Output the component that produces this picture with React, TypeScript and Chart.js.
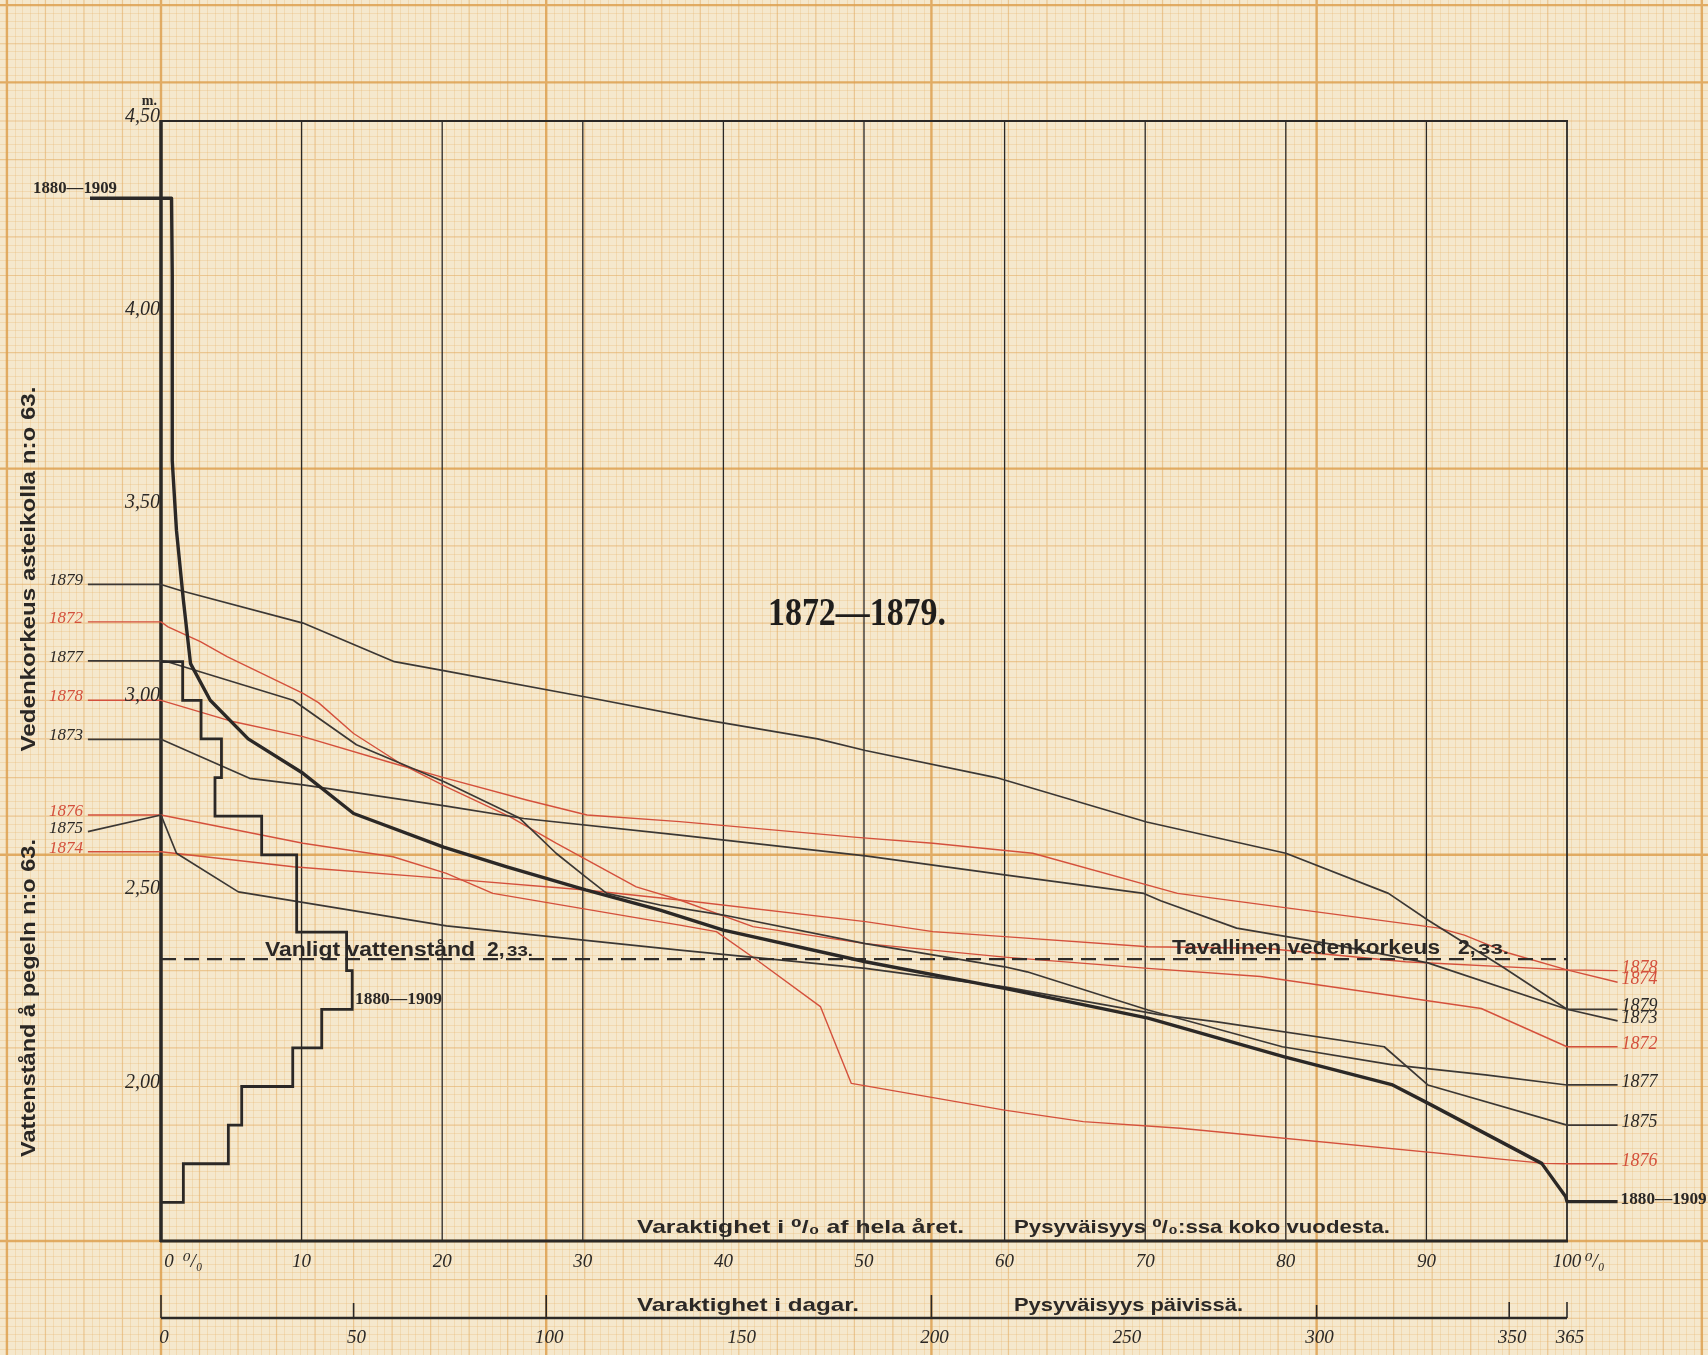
import React, { useEffect, useRef } from "react";
import { Chart, registerables } from "chart.js";

Chart.register(...registerables);

const CANVAS_W = 1708;
const CANVAS_H = 1355;

// ---------------- axes / ticks ----------------
const PCT_TICKS = [0, 10, 20, 30, 40, 50, 60, 70, 80, 90, 100];
const DAY_TICKS = [0, 50, 100, 150, 200, 250, 300, 350, 365];
const DAY_TICK_LEN = [23, 15, 23, 0, 23, 0, 13, 16, 16];
const LEVEL_TICKS = [2.0, 2.5, 3.0, 3.5, 4.0, 4.5];
const LEVEL_TICK_LABELS = ["2,00", "2,50", "3,00", "3,50", "4,00", "4,50"];
const ORDINARY_LEVEL = 2.33;
const Y_MIN = 1.6;
const Y_MAX = 4.5;
const DAYS_IN_YEAR = 365;

// ---------------- yearly duration curves (percent of year, level m) ----------------
const pct1879 = [0, 1.5, 10.1, 16.6, 20.1, 30.3, 38.3, 46.7, 50.1, 59.4, 70.1, 80.0, 87.3, 90.1, 95.4, 100];
const lev1879 = [3.30, 3.283, 3.20, 3.10, 3.077, 3.008, 2.952, 2.90, 2.87, 2.80, 2.685, 2.604, 2.50, 2.431, 2.31, 2.20];

const pct1872 = [0, 0.5, 2.8, 4.7, 10.1, 11.2, 13.7, 17.0, 20.3, 24.8, 28.1, 33.8, 36.9, 42.1, 50.1, 60, 70.2, 78.2, 93.9, 100];
const lev1872 = [3.203, 3.19, 3.152, 3.113, 3.018, 2.994, 2.914, 2.837, 2.776, 2.699, 2.63, 2.517, 2.483, 2.414, 2.37, 2.335, 2.306, 2.285, 2.202, 2.103];

const pct1877 = [0, 0.45, 9.4, 13.9, 20.1, 25.5, 28.1, 30.2, 31.7, 35.5, 40, 50.1, 60, 61.6, 70.2, 79.75, 87.6, 94.2, 100];
const lev1877 = [3.102, 3.10, 3.0, 2.885, 2.79, 2.695, 2.604, 2.543, 2.50, 2.47, 2.444, 2.37, 2.31, 2.297, 2.198, 2.103, 2.056, 2.03, 2.004];

const pct1878 = [0, 5.1, 10.1, 16.5, 20.3, 26, 30.3, 36.9, 49.5, 54.9, 62, 72.3, 90.9, 92.7, 95.9, 100];
const lev1878 = [3.0, 2.945, 2.906, 2.837, 2.798, 2.742, 2.703, 2.686, 2.645, 2.63, 2.604, 2.50, 2.41, 2.392, 2.345, 2.302];

const pct1873 = [0, 6.3, 10.1, 20.3, 25.8, 36.9, 50.1, 60, 69.9, 71.1, 76.5, 83, 90.1, 100];
const lev1873 = [2.899, 2.798, 2.781, 2.726, 2.694, 2.651, 2.597, 2.548, 2.50, 2.481, 2.41, 2.37, 2.32, 2.20];

const pct1876 = [0, 10.1, 16.5, 20.3, 23.6, 36.9, 39.5, 42.4, 46.9, 49.1, 60, 65.6, 72.5, 98.4, 100];
const lev1876 = [2.703, 2.63, 2.595, 2.552, 2.50, 2.418, 2.401, 2.327, 2.207, 2.008, 1.939, 1.909, 1.892, 1.801, 1.80];

const pct1875 = [0, 1.1, 5.5, 20.3, 36.9, 50.1, 60, 71, 75, 87, 90.1, 100];
const lev1875 = [2.703, 2.604, 2.504, 2.416, 2.353, 2.306, 2.258, 2.186, 2.168, 2.103, 2.004, 1.90];

const pct1874 = [0, 9.4, 20.1, 30.2, 36.9, 50.1, 54.9, 60, 70.2, 78.5, 88.5, 100];
const lev1874 = [2.608, 2.569, 2.539, 2.509, 2.483, 2.427, 2.401, 2.388, 2.362, 2.358, 2.323, 2.302];

const YEARS = ["1879", "1872", "1877", "1878", "1873", "1876", "1875", "1874"];
const YEAR_PCT = [pct1879, pct1872, pct1877, pct1878, pct1873, pct1876, pct1875, pct1874];
const YEAR_LEV = [lev1879, lev1872, lev1877, lev1878, lev1873, lev1876, lev1875, lev1874];
const YEAR_RED = [false, true, false, true, false, true, false, true];
const LEFT_TAG = [3.30, 3.203, 3.102, 3.0, 2.899, 2.703, 2.66, 2.608];
const RIGHT_TAG = [2.20, 2.103, 2.004, 2.30, 2.17, 1.80, 1.90, 2.27];

// ---------------- mean duration curve 1880–1909 ----------------
const MEAN_NAME = "1880—1909";
const pctMean = [0, 0.75, 0.8, 0.8, 1.1, 1.59, 2.1, 3.5, 6.2, 10.1, 13.7, 20.1, 24.6, 30.2, 35.5, 40, 50.1, 60, 70.2, 79.9, 87.6, 90.1, 98.2, 99.9, 100];
const levMean = [4.30, 4.30, 4.10, 3.62, 3.44, 3.26, 3.095, 3.0, 2.90, 2.811, 2.707, 2.62, 2.569, 2.509, 2.457, 2.405, 2.323, 2.254, 2.177, 2.077, 2.004, 1.957, 1.801, 1.715, 1.702];
const MEAN_LEFT_TAG = 4.30;
const MEAN_RIGHT_TAG = 1.702;

// frequency (percent of year) of each 10 cm band, 1880–1909
const bandLower = [1.7, 1.8, 1.9, 2.0, 2.1, 2.2, 2.3, 2.4, 2.5, 2.6, 2.7, 2.8, 2.9, 3.0];
const bandPct = [1.59, 4.79, 5.74, 9.37, 11.43, 13.6, 13.2, 9.65, 9.65, 7.16, 3.84, 4.3, 2.85, 1.54];
const BAND_STEP = 0.1;

// ---------------- style ----------------
const LEFT_LEADER = -5.2;
const RIGHT_LEADER = 103.6;
const INK = "#2b2826";
const INK_THIN = "#3b3734";
const RED = "#d4503c";
const PAPER_BG = "#f5e8cd";
const PAPER_LINE = ["rgba(232,182,112,0.30)", "rgba(226,170,94,0.55)", "rgba(221,160,80,0.85)"];
const PAPER_W = [1, 1.2, 2.4];

const SERIF_IT = (s: number) => `italic ${s}px "Liberation Serif", "DejaVu Serif", serif`;
const SERIF_BOLD = (s: number) => `bold ${s}px "Liberation Serif", "DejaVu Serif", serif`;
const SANS_BOLD = (s: number) => `bold ${s}px "Liberation Sans", "DejaVu Sans", sans-serif`;

const toPts = (xs: number[], ys: number[]) => xs.map((x, i) => ({ x, y: ys[i] }));

function stairPoints() {
  const pts: { x: number; y: number }[] = [{ x: 0, y: bandLower[0] }];
  bandLower.forEach((lo, i) => {
    pts.push({ x: bandPct[i], y: lo });
    pts.push({ x: bandPct[i], y: +(lo + BAND_STEP).toFixed(2) });
  });
  pts.push({ x: 0, y: +(bandLower[bandLower.length - 1] + BAND_STEP).toFixed(2) });
  return pts;
}

function fit(ctx: CanvasRenderingContext2D, text: string, x: number, y: number, width: number, font: string, color: string, align = "left") {
  ctx.save();
  ctx.font = font;
  ctx.fillStyle = color;
  ctx.textBaseline = "alphabetic";
  ctx.textAlign = "left";
  const w = ctx.measureText(text).width || 1;
  const left = align === "left" ? x : align === "center" ? x - width / 2 : x - width;
  ctx.translate(left, y);
  ctx.scale(width / w, 1);
  ctx.fillText(text, 0, 0);
  ctx.restore();
}

function txt(ctx: CanvasRenderingContext2D, text: string, x: number, y: number, font: string, color: string, align: CanvasTextAlign = "left") {
  ctx.save();
  ctx.font = font;
  ctx.fillStyle = color;
  ctx.textBaseline = "alphabetic";
  ctx.textAlign = align;
  ctx.fillText(text, x, y);
  ctx.restore();
}

const paperPlugin = {
  id: "paper",
  beforeDraw(chart: any) {
    const ctx: CanvasRenderingContext2D = chart.ctx;
    const xd = chart.scales.xDays;
    const ys = chart.scales.y;
    ctx.save();
    ctx.fillStyle = PAPER_BG;
    ctx.fillRect(0, 0, CANVAS_W, CANVAS_H);
    const vLines: [number, number][] = [];
    for (let i = -21; i <= 206; i++) {
      const d = i * 2;
      const lvl = d === -40 || i % 50 === 0 ? 2 : i % 5 === 0 ? 1 : 0;
      vLines.push([xd.getPixelForValue(d), lvl]);
    }
    const hLines: [number, number][] = [];
    for (let j = -16; j <= 162; j++) {
      const v = Y_MIN + j * 0.02;
      const lvl = j === 160 || j % 50 === 0 ? 2 : j % 5 === 0 ? 1 : 0;
      hLines.push([ys.getPixelForValue(v), lvl]);
    }
    for (const level of [0, 1, 2]) {
      ctx.strokeStyle = PAPER_LINE[level];
      ctx.lineWidth = PAPER_W[level];
      ctx.beginPath();
      for (const [px, l] of vLines) {
        if (l !== level) continue;
        const xx = level === 0 ? Math.round(px) + 0.5 : px;
        ctx.moveTo(xx, 0);
        ctx.lineTo(xx, CANVAS_H);
      }
      for (const [py, l] of hLines) {
        if (l !== level) continue;
        const yy = level === 0 ? Math.round(py) + 0.5 : py;
        ctx.moveTo(0, yy);
        ctx.lineTo(CANVAS_W, yy);
      }
      ctx.stroke();
    }
    ctx.restore();
  },
};

const framePlugin = {
  id: "frame",
  beforeDatasetsDraw(chart: any) {
    const ctx: CanvasRenderingContext2D = chart.ctx;
    const a = chart.chartArea;
    const xs = chart.scales.x;
    const xd = chart.scales.xDays;
    const line = (x1: number, y1: number, x2: number, y2: number, w: number) => {
      ctx.lineWidth = w;
      ctx.beginPath();
      ctx.moveTo(x1, y1);
      ctx.lineTo(x2, y2);
      ctx.stroke();
    };
    ctx.save();
    ctx.strokeStyle = INK;
    ctx.lineCap = "butt";
    for (const p of PCT_TICKS) {
      if (p === 0) continue;
      const x = xs.getPixelForValue(p);
      line(x, a.top, x, a.bottom, p === 100 ? 1.8 : 1.3);
    }
    line(a.left, a.top, a.right + 1, a.top, 2);
    line(a.left - 1, a.bottom, a.right + 1, a.bottom, 3);
    line(a.left, a.top - 1, a.left, a.bottom + 1, 3.5);
    // day axis
    const dy = a.bottom + 77;
    line(xd.getPixelForValue(0), dy, xd.getPixelForValue(DAYS_IN_YEAR), dy, 2.6);
    DAY_TICKS.forEach((d, i) => {
      const len = DAY_TICK_LEN[i];
      if (!len) return;
      const x = xd.getPixelForValue(d);
      line(x, dy, x, dy - len, 1.6);
    });
    ctx.restore();
  },
};

const textPlugin = {
  id: "texts",
  afterDraw(chart: any) {
    const ctx: CanvasRenderingContext2D = chart.ctx;
    const a = chart.chartArea;
    const xs = chart.scales.x;
    const xd = chart.scales.xDays;
    const ys = chart.scales.y;

    // title
    fit(ctx, "1872—1879.", 768, 625, 178, SERIF_BOLD(40), "#1f1d1b");

    // level ticks
    LEVEL_TICKS.forEach((v, i) => {
      txt(ctx, LEVEL_TICK_LABELS[i], a.left - 1, ys.getPixelForValue(v) + 1, SERIF_IT(20), INK, "right");
    });
    txt(ctx, "m.", a.left - 4, a.top - 16, SERIF_BOLD(14), INK, "right");

    // rotated axis titles
    const rot = (text: string, cy: number, width: number) => {
      ctx.save();
      ctx.translate(35, cy);
      ctx.rotate(-Math.PI / 2);
      fit(ctx, text, 0, 0, width, SANS_BOLD(21), "#2a2725", "center");
      ctx.restore();
    };
    rot("Vedenkorkeus asteikolla n:o 63.", 569, 365);
    rot("Vattenstånd å pegeln n:o 63.", 998, 318);

    // year tags
    YEARS.forEach((name, i) => {
      const col = YEAR_RED[i] ? RED : INK;
      const yl = ys.getPixelForValue(LEFT_TAG[i]);
      txt(ctx, name, xs.getPixelForValue(LEFT_LEADER) - 5, yl + 1, SERIF_IT(17), col, "right");
      const yr = ys.getPixelForValue(RIGHT_TAG[i]);
      txt(ctx, name, xs.getPixelForValue(RIGHT_LEADER) + 4, yr + 2, SERIF_IT(18), col, "left");
    });
    // mean curve tags
    fit(ctx, MEAN_NAME, 117, ys.getPixelForValue(MEAN_LEFT_TAG) - 5, 84, SERIF_BOLD(16), INK, "right");
    fit(ctx, MEAN_NAME, xs.getPixelForValue(RIGHT_LEADER) + 3, ys.getPixelForValue(MEAN_RIGHT_TAG) + 2, 86, SERIF_BOLD(16), INK, "left");
    fit(ctx, MEAN_NAME, 355, ys.getPixelForValue(2.2) - 5, 87, SERIF_BOLD(16), INK, "left");

    // ordinary water level labels
    const dashY = ys.getPixelForValue(ORDINARY_LEVEL);
    fit(ctx, "Vanligt vattenstånd", 265, dashY - 3, 210, SANS_BOLD(20), INK);
    txt(ctx, "2,", 487, dashY - 3, SANS_BOLD(21), INK);
    fit(ctx, "33.", 507, dashY - 3, 26, SANS_BOLD(14), INK);
    fit(ctx, "Tavallinen vedenkorkeus", 1172, dashY - 5, 268, SANS_BOLD(20), INK);
    txt(ctx, "2,", 1458, dashY - 5, SANS_BOLD(21), INK);
    fit(ctx, "33.", 1478, dashY - 5, 31, SANS_BOLD(14), INK);

    // inner bottom captions
    fit(ctx, "Varaktighet i ⁰/₀ af hela året.", 637, a.bottom - 8, 327, SANS_BOLD(19), INK);
    fit(ctx, "Pysyväisyys ⁰/₀:ssa koko vuodesta.", 1014, a.bottom - 8, 376, SANS_BOLD(19), INK);

    // percent tick labels
    PCT_TICKS.forEach((p) => {
      const x = xs.getPixelForValue(p);
      const by = a.bottom + 26;
      if (p === 0) {
        txt(ctx, "0", x + 8, by, SERIF_IT(19), INK, "center");
        txt(ctx, "⁰/₀", x + 22, by, SERIF_IT(19), INK, "left");
      } else if (p === 100) {
        txt(ctx, "100", x, by, SERIF_IT(19), INK, "center");
        txt(ctx, "⁰/₀", x + 18, by, SERIF_IT(19), INK, "left");
      } else {
        txt(ctx, String(p), x, by, SERIF_IT(19), INK, "center");
      }
    });

    // day axis captions and labels
    const dy = a.bottom + 77;
    fit(ctx, "Varaktighet i dagar.", 637, dy - 7, 222, SANS_BOLD(19), INK);
    fit(ctx, "Pysyväisyys päivissä.", 1014, dy - 7, 229, SANS_BOLD(19), INK);
    DAY_TICKS.forEach((d) => {
      const x = xd.getPixelForValue(d);
      txt(ctx, String(d), x + 3, dy + 25, SERIF_IT(19), INK, "center");
    });
  },
};

function buildDatasets() {
  const common = { pointRadius: 0, pointHoverRadius: 0, tension: 0, clip: false as any, fill: false, borderJoinStyle: "round" as const, xAxisID: "x", yAxisID: "y" };
  const ds: any[] = [];
  YEARS.forEach((name, i) => {
    const pts = [{ x: LEFT_LEADER, y: LEFT_TAG[i] }, ...toPts(YEAR_PCT[i], YEAR_LEV[i]), { x: RIGHT_LEADER, y: RIGHT_TAG[i] }];
    ds.push({ ...common, label: name, data: pts, borderColor: YEAR_RED[i] ? RED : INK_THIN, borderWidth: YEAR_RED[i] ? 1.4 : 1.7, order: YEAR_RED[i] ? 5 : 4 });
  });
  ds.push({ ...common, label: "Vanligt vattenstånd 2,33", data: [{ x: 0, y: ORDINARY_LEVEL }, { x: 100, y: ORDINARY_LEVEL }], borderColor: "#2e2b29", borderWidth: 2.2, borderDash: [15, 8], order: 3 });
  ds.push({ ...common, label: MEAN_NAME, data: [{ x: LEFT_LEADER + 0.15, y: MEAN_LEFT_TAG }, ...toPts(pctMean, levMean), { x: RIGHT_LEADER, y: MEAN_RIGHT_TAG }], borderColor: INK, borderWidth: 3.4, order: 2 });
  ds.push({ ...common, label: MEAN_NAME + " frekvens", data: stairPoints(), borderColor: INK, borderWidth: 2.8, borderJoinStyle: "miter", order: 1 });
  return ds;
}

export default function App() {
  const ref = useRef<HTMLCanvasElement>(null);
  useEffect(() => {
    if (!ref.current) return;
    const chart = new Chart(ref.current, {
      type: "line",
      data: { datasets: buildDatasets() },
      options: {
        responsive: false,
        animation: false,
        devicePixelRatio: 1,
        events: [],
        layout: { padding: { left: 161, top: 121, right: CANVAS_W - 1567, bottom: CANVAS_H - 1241 } },
        plugins: { legend: { display: false }, tooltip: { enabled: false }, title: { display: false } },
        scales: {
          x: { type: "linear", display: false, bounds: "data", afterDataLimits: (s: any) => { s.min = 0; s.max = 100; } },
          xDays: { type: "linear", axis: "x", display: false, bounds: "data", afterDataLimits: (s: any) => { s.min = 0; s.max = DAYS_IN_YEAR; } },
          y: { type: "linear", display: false, bounds: "data", afterDataLimits: (s: any) => { s.min = Y_MIN; s.max = Y_MAX; } },
        },
      } as any,
      plugins: [paperPlugin, framePlugin, textPlugin],
    });
    return () => chart.destroy();
  }, []);
  return (
    <div style={{ position: "absolute", left: 0, top: 0, width: CANVAS_W, height: CANVAS_H }}>
      <canvas ref={ref} width={CANVAS_W} height={CANVAS_H} style={{ display: "block", width: CANVAS_W, height: CANVAS_H }} />
    </div>
  );
}
